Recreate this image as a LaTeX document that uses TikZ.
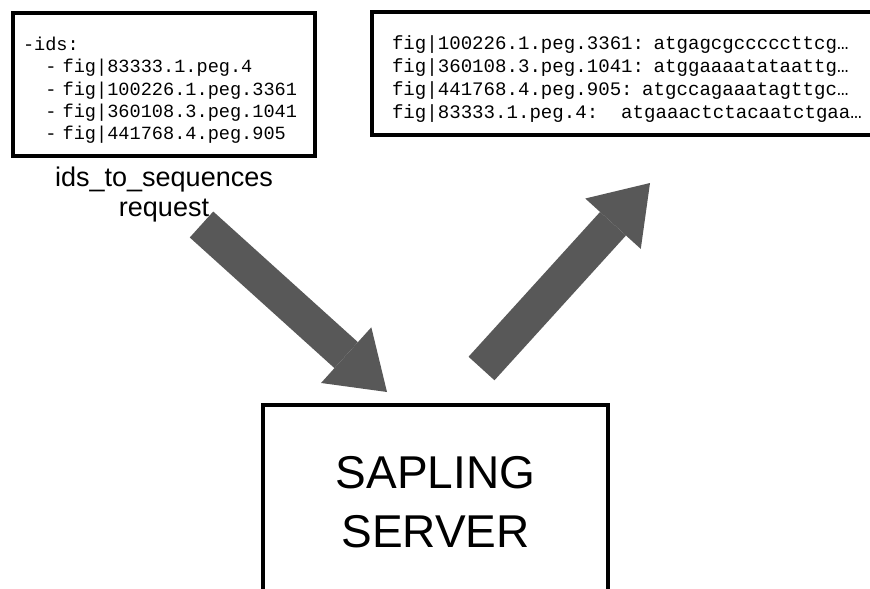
\documentclass[tikz,border=0pt]{standalone}
\usepackage{fontspec}
\setmainfont{Liberation Sans}
\setmonofont{Liberation Mono}
\usetikzlibrary{arrows.meta,positioning}
\definecolor{arrowgrey}{RGB}{88,88,88}

\begin{document}
\begin{tikzpicture}[x=0.5pt,y=-0.5pt,every node/.style={shape=rectangle},
	listbox/.style={draw, line width=2pt, align=left},
	bigarrow/.style={draw=arrowgrey, line width=17.5pt, -{Triangle[length=27.5pt, width=37.5pt, line width=0pt]}},]
	\useasboundingbox (0,0) rectangle (870,588);
	% create the nodes
	\node (ids)[listbox, minimum width=151pt, minimum height=71.5pt, text width=141pt, inner xsep=5pt, font=\ttfamily\fontsize{9.3}{11.2}\selectfont] at (164,84.5) {\rule{0pt}{12.5pt}-ids:\\\hspace*{1.2em}- fig|83333.1.peg.4\\\hspace*{1.2em}- fig|100226.1.peg.3361\\\hspace*{1.2em}- fig|360108.3.peg.1041\\\hspace*{1.2em}- fig|441768.4.peg.905};
	\node (reqlabel)[below=4.5pt of ids, inner sep=0pt, align=center, font=\fontsize{13.5}{15}\selectfont] {ids\_to\_sequences\\request};
	\node (seqs)[listbox, minimum width=260pt, minimum height=61.25pt, text width=240pt, inner xsep=10pt, font=\ttfamily\fontsize{9.55}{11.5}\selectfont] at (632,73.75) {\rule{0pt}{12pt}fig|100226.1.peg.3361: atgagcgcccccttcg…\\fig|360108.3.peg.1041: atggaaaatataattg…\\fig|441768.4.peg.905: atgccagaaatagttgc…\\fig|83333.1.peg.4:\hspace{1.2em}atgaaactctacaatctgaa…};
	\node (server)[draw, line width=2pt, minimum width=172.5pt, minimum height=97.5pt, align=center, font=\fontsize{23}{29.5}\selectfont] at (435.5,502.5) {SAPLING\\SERVER};
	\coordinate (reqtail) at (201.5,224.5);
	\coordinate (reqtip) at (387,392);
	\coordinate (resptail) at (481.5,368.5);
	\coordinate (resptip) at (650,183);

	% connect the nodes
	\draw[bigarrow] (reqtail) -- (reqtip);
	\draw[bigarrow] (resptail) -- (resptip);

\end{tikzpicture}
\end{document}
